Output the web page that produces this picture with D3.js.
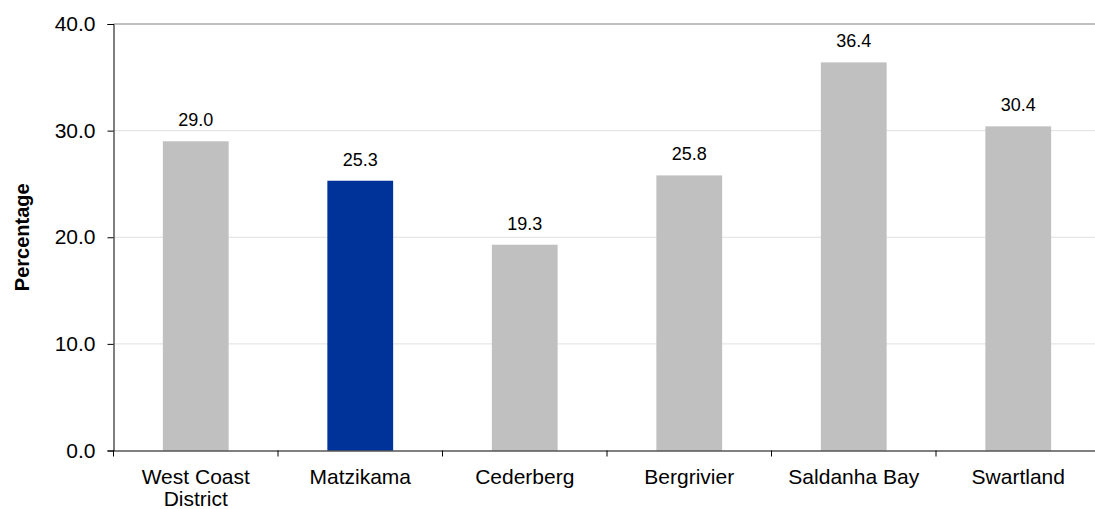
<!DOCTYPE html>
<html><head><meta charset="utf-8">
<script src="https://cdn.jsdelivr.net/npm/d3@7"></script>
<style>body{margin:0;background:#fff;} text{font-family:Arial,"Liberation Sans",sans-serif;}</style>
</head><body>
<svg id="c" width="1095" height="509"></svg>
<script>
const categories = ["West Coast\nDistrict","Matzikama","Cederberg","Bergrivier","Saldanha Bay","Swartland"];
const values = [29.0,25.3,19.3,25.8,36.4,30.4];
const highlight = [false,true,false,false,false,false];
const yTicks = [0,10,20,30,40];

(function(){
const svg = d3.select("#c");
const mLeft = 113.5, mRight = 1100.5, mTop = 24, mBottom = 450.5;
const x = d3.scaleBand().domain(categories).range([mLeft,mRight]).paddingInner(0).paddingOuter(0);
const y = d3.scaleLinear().domain([0,40]).range([mBottom,mTop]);
const barW = x.bandwidth()*0.4;

svg.append("g").selectAll("line").data(yTicks.filter(d=>d>0)).join("line")
  .attr("x1",mLeft).attr("x2",1095).attr("y1",d=>y(d)).attr("y2",d=>y(d))
  .attr("stroke",d=>d===40?"#808080":"#e0e0e0").attr("stroke-width",1);

svg.append("g").selectAll("rect").data(values).join("rect")
  .attr("x",(d,i)=>x(categories[i])+x.bandwidth()/2-barW/2)
  .attr("width",barW)
  .attr("y",d=>y(d)).attr("height",d=>mBottom-y(d))
  .attr("fill",(d,i)=>highlight[i]?"#003399":"#c0c0c0");

svg.append("g").selectAll("text").data(values).join("text")
  .attr("x",(d,i)=>x(categories[i])+x.bandwidth()/2)
  .attr("y",d=>y(d)-15)
  .attr("text-anchor","middle").attr("font-size",18).attr("fill","#000")
  .text(d=>d.toFixed(1));

const ya = svg.append("g").attr("transform",`translate(${mLeft},0)`)
  .call(d3.axisLeft(y).tickValues(yTicks).tickFormat(d3.format(".1f")).tickSize(6).tickPadding(12));
ya.select(".domain").attr("stroke","#000");
ya.selectAll(".tick line").attr("stroke","#000");
ya.selectAll("text").attr("font-size",21).attr("fill","#000").style("font-family","Arial,'Liberation Sans',sans-serif");

const xa = svg.append("g").attr("transform",`translate(0,${mBottom})`)
  .call(d3.axisBottom(x).tickSize(0).tickFormat(""));
xa.select(".domain").attr("stroke","#000");
svg.append("g").selectAll("line").data(categories).join("line")
  .attr("x1",d=>x(d)).attr("x2",d=>x(d))
  .attr("y1",mBottom).attr("y2",mBottom+6).attr("stroke","#000");

const cl = svg.append("g").selectAll("text").data(categories).join("text")
  .attr("x",d=>x(d)+x.bandwidth()/2).attr("y",mBottom+33)
  .attr("text-anchor","middle").attr("font-size",21).attr("fill","#000");
cl.each(function(d){
  const t=d3.select(this);
  d.split("\n").forEach((s,k)=>t.append("tspan").attr("x",x(d)+x.bandwidth()/2).attr("dy",k?22:0).text(s));
});

svg.append("text").attr("transform",`translate(29,${(mTop+mBottom)/2}) rotate(-90)`)
  .attr("text-anchor","middle").attr("font-size",20).attr("font-weight","bold").text("Percentage");
})();
</script>
</body></html>
